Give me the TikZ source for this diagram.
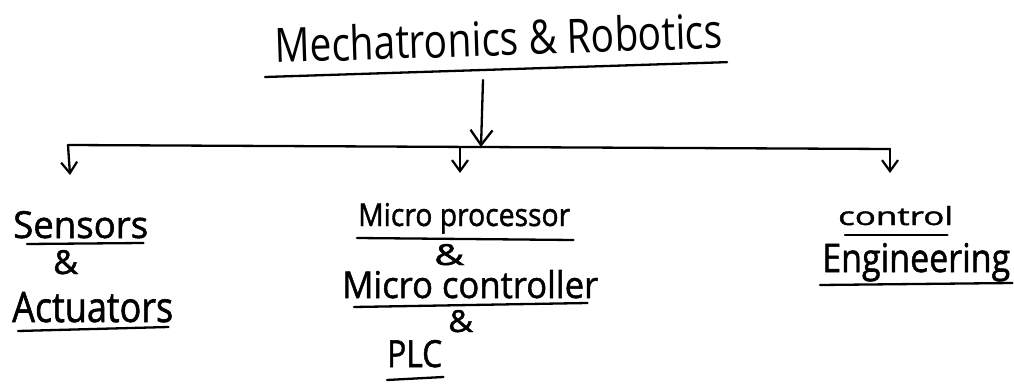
\documentclass[tikz,border=0pt]{standalone}
\usepackage{fontspec}
\setmainfont{Open Sans}
\newfontfamily\heavyhand[FakeBold=1.4]{Open Sans}
\usepackage{graphicx}
\usetikzlibrary{arrows.meta,calc}
% fit a label into a box of given width and height above the baseline
\newcommand\handtext[3]{\resizebox{#1}{#2}{#3}}
\begin{document}
\begin{tikzpicture}[x=1pt,y=-1pt,
  ink/.style={line width=2.3pt, line cap=round, line join=round},
  bigtip/.style={-{Straight Barb[length=15pt,width=22pt,line width=2.3pt]}},
  smalltip/.style={-{Straight Barb[length=11pt,width=16pt,line width=2.2pt]}},
  lbl/.style={inner sep=0pt, anchor=base west, font=\heavyhand}]
\useasboundingbox (0,0) rectangle (1014,385);
\fill[white] (0,0) rectangle (1014,385);

% heading, written on a slight upward slant
\node[lbl, rotate=1.9, font=\rmfamily] (title) at (275,63) {\handtext{448pt}{36pt}{Mechatronics \& Robotics}};
\draw[ink] ($(title.base west)+(-10,14)$) -- ($(title.base east)+(4,14)$);

% branch bar and drops
\coordinate (stem) at (483,80);
\coordinate (hub) at (481,147);
\coordinate (barL) at (68,145);
\coordinate (barM) at (460,148);
\coordinate (barR) at (890,149);
\coordinate (endL) at (70,175);
\coordinate (endM) at (460,173);
\coordinate (endR) at (890,173);
\draw[ink, bigtip] (stem) -- (hub);
\draw[ink] (barL) -- (barR);
\draw[ink, smalltip] (barL) -- (endL);
\draw[ink, smalltip] (barM) -- (endM);
\draw[ink, smalltip] (barR) -- (endR);

% left column
\node[lbl] (sens) at (13,238) {\handtext{135pt}{27pt}{Sensors}};
\draw[ink] ($(sens.base west)+(14,6)$) -- ($(sens.base east)+(-5,5)$);
\node[lbl] (ampL) at (53,274) {\handtext{25pt}{24pt}{\&}};
\node[lbl] (act) at (12,322) {\handtext{161pt}{30pt}{Actuators}};
\draw[ink] ($(act.base west)+(6,9)$) -- ($(act.base east)+(-5,5)$);

% middle column
\node[lbl] (mp) at (358,226) {\handtext{212pt}{23pt}{Micro processor}};
\draw[ink] ($(mp.base west)+(-1,12)$) -- ($(mp.base east)+(3,14)$);
\node[lbl] (ampM1) at (434,265) {\handtext{30pt}{21pt}{\&}};
\node[lbl] (mc) at (342,298) {\handtext{256pt}{28pt}{Micro controller}};
\draw[ink] ($(mc.base west)+(12,9)$) -- ($(mc.base east)+(-11,5)$);
\node[lbl] (ampM2) at (448,332) {\handtext{25pt}{22pt}{\&}};
\node[lbl] (plc) at (387,367) {\handtext{55pt}{27pt}{PLC}};
\draw[ink] ($(plc.base west)+(0,13)$) -- ($(plc.base east)+(1,10)$);

% right column
\node[lbl] (ctl) at (838,225) {\handtext{115pt}{19pt}{control}};
\draw[ink] ($(ctl.base west)+(7,10)$) -- ($(ctl.base east)+(-6,10)$);
\node[lbl] (eng) at (822,272) {\handtext{188pt}{29pt}{Engineering}};
\draw[ink] ($(eng.base west)+(-2,13)$) -- ($(eng.base east)+(2,11)$);
\end{tikzpicture}
\end{document}
